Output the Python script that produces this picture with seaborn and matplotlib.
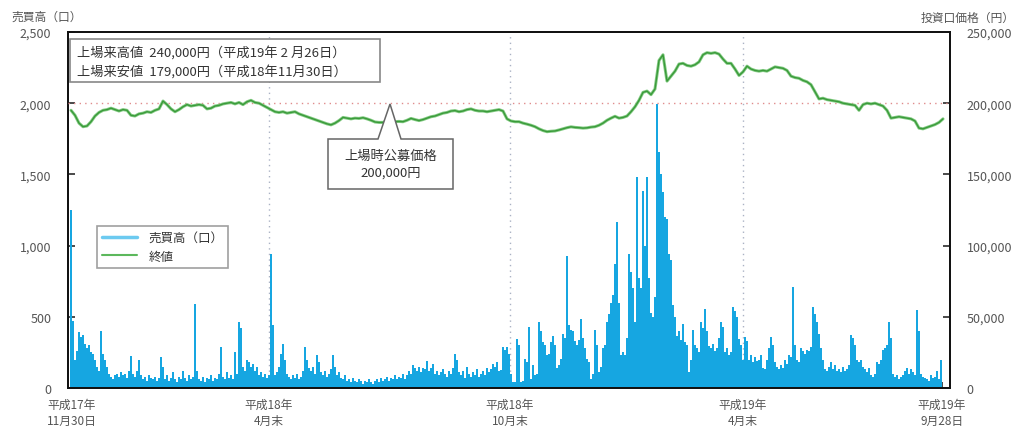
import numpy as np
import pandas as pd
import seaborn as sns
import matplotlib.pyplot as plt
from matplotlib.lines import Line2D
from matplotlib.patches import Polygon, Rectangle
import matplotlib.patheffects as pe
from matplotlib.ticker import FuncFormatter

sns.set_theme(style='white')
plt.rcParams['font.family'] = ['Noto Sans CJK JP', 'DejaVu Sans']

# ---------------- data ----------------
# daily trading volume (口), one value per trading day
volume = [
    1250, 470, 200, 260, 390, 360, 370, 310, 280, 300,
    250, 240, 200, 150, 120, 400, 240, 200, 150, 100,
    80, 60, 90, 100, 80, 110, 90, 100, 70, 120,
    227, 100, 80, 120, 200, 90, 60, 80, 50, 90,
    70, 60, 80, 50, 70, 215, 150, 60, 90, 50,
    70, 110, 60, 40, 80, 60, 120, 70, 50, 90,
    60, 80, 590, 120, 60, 50, 80, 40, 70, 60,
    90, 50, 70, 60, 100, 290, 80, 60, 110, 70,
    90, 60, 250, 100, 466, 420, 147, 120, 200, 180,
    150, 170, 120, 150, 90, 110, 80, 100, 70, 90,
    940, 440, 90, 110, 150,
    240, 310, 200, 100, 80, 60, 90, 70, 100, 60,
    80, 120, 290, 200, 140, 120, 150, 100, 230, 180,
    110, 90, 120, 80, 100, 130, 230, 150, 90, 110,
    70, 60, 90, 50, 60, 40, 70, 50, 40, 60,
    50, 30, 50, 40, 60, 40, 30, 50, 60, 40,
    70, 50, 60, 80, 50, 70, 60, 90, 60, 80,
    70, 100, 60, 90, 120, 100, 160, 140, 120, 150,
    110, 140, 130, 190, 120, 140, 170, 100, 120, 90,
    110, 130, 100, 80, 120, 100, 140, 240, 200, 110,
    90, 120, 70, 150, 100, 80, 110, 90, 130, 80,
    100, 120, 90, 140, 110, 130, 170, 150, 180, 120,
    125, 290, 270, 290, 240, 100, 40, 40, 345, 300,
    40, 50, 205, 180, 430, 65, 160, 90, 100, 465,
    400, 320, 300, 230, 240, 320, 365, 300, 140, 160,
    205, 380, 350, 930, 440, 410, 400, 330, 300, 340,
    485, 350, 280, 205, 180, 65, 100, 410, 300, 110,
    150, 280, 300, 465, 520, 600, 650, 870, 1165, 600,
    230, 250, 230, 350, 940, 815, 700, 465, 1480, 770,
    700, 1385, 1000, 1480, 770, 530, 500, 640, 1995, 1655,
    1500, 1375, 1200, 1185, 940, 900, 580, 500, 365, 400,
    340, 450, 320, 300, 110, 200, 410, 300, 280, 250,
    465, 420, 555, 400, 295, 280, 310, 260, 280, 350,
    460, 430, 250, 280, 230, 250, 570, 540, 500, 345,
    300, 200, 360, 330, 200, 230, 180, 220, 190, 200,
    230, 140, 130, 200, 280, 360, 300, 180, 150, 130,
    160, 140, 200, 170, 230, 220, 710, 300, 200, 180,
    280, 260, 240, 270, 260, 290, 570, 520, 460, 380,
    280, 200, 130, 120, 150, 180, 130, 160, 120, 130,
    110, 150, 120, 130, 160, 370, 350, 300, 200, 180,
    200, 150, 130, 110, 140, 90, 80, 100, 180, 170,
    200, 270, 280, 300, 465, 350, 100, 80, 90, 60,
    80, 90, 120, 140, 100, 130, 110, 90, 545, 400,
    100, 80, 70, 60, 50, 90, 70, 80, 120, 60,
    195,
]

# closing price (円), one value every second trading day
price = [
    195000, 191500, 186000, 183500, 184000, 187000, 191000, 193500, 195000, 195500,
    196500, 195500, 194500, 195500, 195000, 191500, 191000, 192500, 193000, 194000,
    193500, 195000, 196000, 201500, 199000, 196000, 194000, 195500, 197500, 199000,
    198000, 198500, 199000, 198500, 196000, 196500, 198000, 198500, 199500, 200000,
    200500, 199500, 200500, 199000, 201000, 202000, 200500, 200000, 198500, 197000,
    195500, 194000, 193500, 194000, 193000, 193500, 194000, 192500, 191500, 190500,
    189500, 188500, 187500, 186500, 185500, 184800, 186000, 187800, 190000, 189500,
    189000, 189500, 189300, 189800, 189000, 188000, 186800, 186500, 186500, 187500,
    187800, 187000, 187200, 187000, 188000, 189300, 188500, 187800, 188500, 189500,
    190500, 191000, 192000, 193000, 193500, 194500, 194800, 194000, 194500, 195500,
    196000, 195000, 194500, 194500, 194000, 194500, 195000, 195500, 194500, 189000,
    187500, 187000, 187000, 186000, 185300, 184500, 183500, 182000, 180800, 180000,
    180300, 180500, 181200, 182000, 182800, 183400, 183000, 182800, 182500, 182700,
    183200, 183500, 184500, 186000, 188000, 189500, 190800, 189500, 190000, 191000,
    194000, 197500, 202000, 207600, 208500, 206000, 210000, 230000, 234000, 215500,
    219000, 222500, 227500, 228000, 226500, 226000, 227000, 229000, 234000, 235500,
    235000, 235500, 234500, 231000, 228000, 228000, 224000, 219500, 222000, 226000,
    224000, 223000, 222500, 223000, 222500, 224000, 225500, 225000, 224500, 223000,
    219000, 218000, 217500, 216000, 215000, 213000, 208000, 203000, 203500, 202500,
    202000, 201500, 201000, 200000, 199500, 199000, 198500, 195000, 199000, 200000,
    199500, 200000, 199000, 198000, 195000, 189500, 190000, 190500, 190000, 189500,
    189000, 187500, 182500, 182000, 183000, 184000, 185000, 186500, 189000,
]

tick_days = [0.5, 99, 219.5, 336, 435.5]
tick_labels = ['平成17年\n11月30日', '平成18年\n4月末', '平成18年\n10月末',
               '平成19年\n4月末', '平成19年\n9月28日']
vol_ticks = [0, 500, 1000, 1500, 2000, 2500]
price_ticks = [0, 50000, 100000, 150000, 200000, 250000]
offer_price = 200000

# ---------------- styling ----------------
BAR = '#16a6e1'
GREEN = '#3a9a3a'
TXT = '#555555'

W, H = 1018, 431
fig = plt.figure(figsize=(W / 100, H / 100), dpi=100)
L, R, T, B = 68, 950, 33, 389
ax = fig.add_axes([L / W, 1 - B / H, (R - L) / W, (B - T) / H])


def axc(x, y):
    return ((x - L) / (R - L), (B - y) / (B - T))


df_v = pd.DataFrame({'day': np.arange(len(volume)), 'vol': volume})
sns.barplot(data=df_v, x='day', y='vol', native_scale=True, width=1.0,
            color=BAR, saturation=1, linewidth=0, errorbar=None, ax=ax, zorder=2)

for d in tick_days[1:4]:
    ax.axvline(d, color='#aab2c4', lw=1, ls=(0, (1, 3)), zorder=1)

ax.set_ylim(0, 2500)
ax.set_yticks(vol_ticks)
ax.yaxis.set_major_formatter(FuncFormatter(lambda v, p: f'{int(v):,}'))
ax.tick_params(axis='y', direction='in', length=5, pad=12, labelsize=9,
               labelcolor=TXT, color='#333', left=True)
ax.set_xlabel('')
ax.set_ylabel('')

ax2 = ax.twinx()
df_p = pd.DataFrame({'day': np.arange(len(price)) * 2, 'price': price})
sns.lineplot(data=df_p, x='day', y='price', ax=ax2, color=GREEN, lw=1.0,
             path_effects=[pe.Stroke(linewidth=2.2, foreground='#84cc84'), pe.Normal()],
             zorder=4)
ax2.axhline(offer_price, color='#e08c8c', lw=1, ls=(0, (1, 3)), zorder=3)
ax2.set_ylim(0, 250000)
ax2.set_yticks(price_ticks)
ax2.yaxis.set_major_formatter(FuncFormatter(lambda v, p: f'{int(v):,}'))
ax2.tick_params(axis='y', direction='in', length=5, pad=12, labelsize=9,
                labelcolor=TXT, color='#333', right=True)
ax2.set_xlabel('')
ax2.set_ylabel('')

ax.set_xlim(-1.5, (R - 71) / 2)
ax.set_xticks(tick_days)
ax.set_xticklabels(tick_labels, linespacing=1.3)
ax.tick_params(axis='x', direction='in', length=4, pad=7, labelsize=8.5,
               labelcolor=TXT, color='#333', bottom=True)

for a in (ax, ax2):
    for s in a.spines.values():
        s.set_color('#111111')
        s.set_linewidth(1.3)

# axis titles
fig.text(12 / W, 1 - 17 / H, '売買高（口）', ha='left', va='center', fontsize=8.5, color=TXT)
fig.text(1015 / W, 1 - 18 / H, '投資口価格（円）', ha='right', va='center', fontsize=8.5, color=TXT)

# high / low info box
x0, y0 = axc(70, 83)
x1, y1 = axc(380, 40)
ax2.add_patch(Rectangle((x0, y0), x1 - x0, y1 - y0, transform=ax2.transAxes,
                        fc='white', ec='#888888', lw=1.2, zorder=6))
tx, ty = axc(77, 62)
ax2.text(tx, ty, '上場来高値  240,000円（平成19年 2 月26日）\n上場来安値  179,000円（平成18年11月30日）',
         transform=ax2.transAxes, ha='left', va='center', fontsize=9.5,
         color='#333333', linespacing=1.45, zorder=7)

# offering price callout
pts = [axc(328, 140), axc(378, 140), axc(390, 105), axc(401, 140), axc(453, 140),
       axc(453, 190), axc(328, 190)]
ax2.add_patch(Polygon(pts, closed=True, transform=ax2.transAxes,
                      fc='white', ec='#666666', lw=1.1, zorder=6))
cx, cy = axc(391, 165)
ax2.text(cx, cy, '上場時公募価格\n200,000円', transform=ax2.transAxes,
         ha='center', va='center', fontsize=9.5, color='#333333',
         linespacing=1.4, zorder=7)

# legend
handles = [Line2D([0], [0], color='#6ccaf0', lw=2.5),
           Line2D([0], [0], color='#5cb85c', lw=1.5)]
lx, ly = axc(97, 227)
leg = ax2.legend(handles, ['売買高（口）', '終値'], loc='upper left',
                 bbox_to_anchor=(lx, ly), frameon=True, fancybox=False,
                 edgecolor='#888888', fontsize=9, handlelength=2.8,
                 handletextpad=0.9, labelspacing=0.45, borderpad=0.4,
                 borderaxespad=0)
leg.get_frame().set_linewidth(1.2)
for t in leg.get_texts():
    t.set_color('#333333')

fig.savefig('out.png', dpi=100)
